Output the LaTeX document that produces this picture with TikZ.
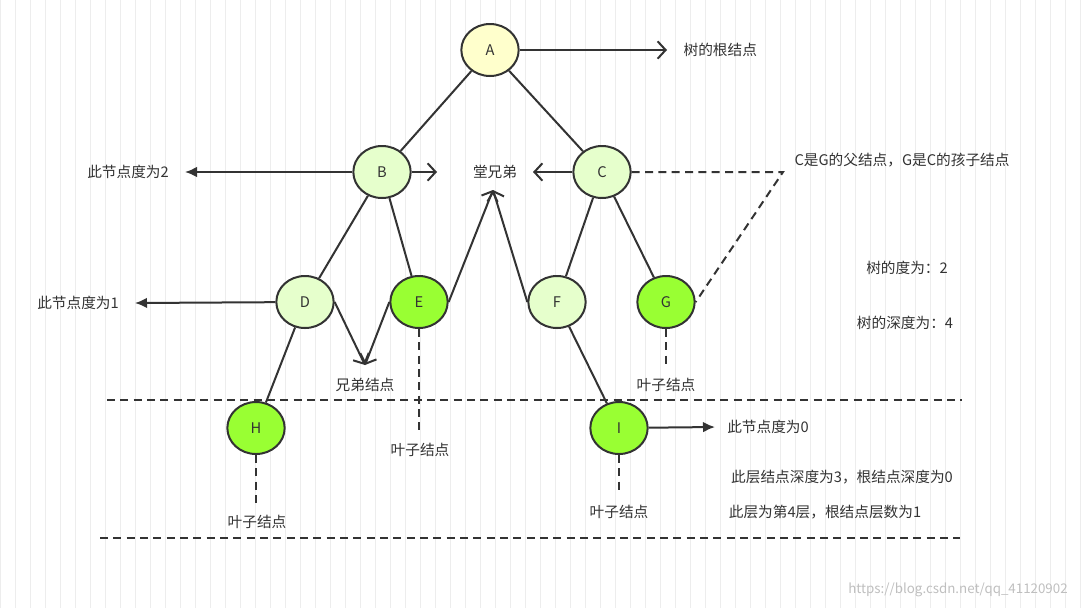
\documentclass[tikz,border=0pt]{standalone}
\usepackage{fontspec}
\setmainfont{Noto Sans CJK SC}
\usetikzlibrary{arrows.meta,shapes.geometric}
\definecolor{pale}{HTML}{E6FFCC}
\definecolor{lime}{HTML}{99FF33}
\definecolor{root}{HTML}{FFFFCC}
\definecolor{ink}{HTML}{333333}
\tikzset{
  vertex/.style={ellipse, draw=ink, line width=1.5pt, minimum width=43pt, minimum height=39pt, inner sep=0pt, font=\fontsize{11}{13}\selectfont, text=ink},
  note/.style={font=\fontsize{11}{13}\selectfont, text=ink, inner sep=1pt},
  edge/.style={draw=ink, line width=1.5pt},
  openarrow/.style={edge, -{Straight Barb[length=6pt,width=13pt]}},
  fullarrow/.style={edge, -{Latex[length=9pt,width=8pt]}},
  dashedge/.style={edge, dash pattern=on 6pt off 4pt}
}
\begin{document}
\begin{tikzpicture}[x=0.75pt, y=-0.75pt]
  \useasboundingbox (0,0) rectangle (1087,608);
  % grid
  \fill[white] (0,0) rectangle (1087,608);
  \draw[black!7, line width=0.6pt] (0,0) grid[step=15] (1087,608);
  % Place nodes
  \node [vertex, fill=root] (a) at (490,50) {A};
  \node [vertex, fill=pale] (b) at (382,172) {B};
  \node [vertex, fill=pale] (c) at (602,172) {C};
  \node [vertex, fill=pale] (d) at (305,302) {D};
  \node [vertex, fill=lime] (e) at (419,302) {E};
  \node [vertex, fill=pale] (f) at (557,302) {F};
  \node [vertex, fill=lime] (g) at (666,302) {G};
  \node [vertex, fill=lime] (h) at (256,428) {H};
  \node [vertex, fill=lime] (i) at (619,428) {I};
  % labels
  \node [note, anchor=west] (rootlbl) at (682,50) {树的根结点};
  \coordinate (rootend) at (667,50);
  \node [note] (deg2) at (128,172) {此节点度为2};
  \coordinate (deg2end) at (185,172);
  \node [note] (cousin) at (495,172) {堂兄弟};
  \coordinate (cousinl) at (437,172);
  \coordinate (cousinr) at (533,172);
  \coordinate (cousinb) at (493,190);
  \node [note, anchor=north west, text width=215pt, align=left] (parent) at (793,151) {C是G的父结点，G是C的孩子结点};
  \coordinate (bend) at (783,172);
  \node [note] (deg1) at (78,303) {此节点度为1};
  \coordinate (deg1end) at (135,303);
  \coordinate (sibtip) at (365,365);
  \node [note] (sib) at (365,385) {兄弟结点};
  \coordinate (eleafend) at (419,430);
  \node [note] (eleaf) at (420,450) {叶子结点};
  \coordinate (gleafend) at (666,365);
  \node [note] (gleaf) at (666,385) {叶子结点};
  \coordinate (hleafend) at (256,503);
  \node [note] (hleaf) at (257,522) {叶子结点};
  \coordinate (ileafend) at (619,490);
  \node [note] (ileaf) at (619,512) {叶子结点};
  \coordinate (deg0end) at (715,427);
  \node [note] (deg0) at (768,427) {此节点度为0};
  \node [note] (treedeg) at (907,268) {树的度为：2};
  \node [note] (treedep) at (905,323) {树的深度为：4};
  \node [note] (layerdep) at (842,477) {此层结点深度为3，根结点深度为0};
  \node [note] (layerno) at (825,512) {此层为第4层，根结点层数为1};
  \node [note, text=black!25, font=\fontsize{10}{12}\selectfont] (mark) at (958,590) {https://blog.csdn.net/qq\_41120902};
  % layer lines
  \coordinate (l1a) at (107,400); \coordinate (l1b) at (962,400);
  \coordinate (l2a) at (100,538); \coordinate (l2b) at (960,538);
  \path [dashedge] (l1a) -- (l1b);
  \path [dashedge] (l2a) -- (l2b);
  % Draw edges
  \path [edge] (a) -- (b);
  \path [edge] (a) -- (c);
  \path [edge] (b) -- (d);
  \path [edge] (b) -- (e);
  \path [edge] (c) -- (f);
  \path [edge] (c) -- (g);
  \path [edge] (d) -- (h);
  \path [edge] (f) -- (i);
  % Draw arrows
  \path [openarrow] (a) -- (rootend);
  \path [fullarrow] (b) -- (deg2end);
  \path [openarrow] (b) -- (cousinl);
  \path [openarrow] (c) -- (cousinr);
  \path [openarrow] (e.east) -- (cousinb);
  \path [openarrow] (f.west) -- (cousinb);
  \path [fullarrow] (d) -- (deg1end);
  \path [openarrow] (d.east) -- (sibtip);
  \path [openarrow] (e.west) -- (sibtip);
  \path [fullarrow] (i) -- (deg0end);
  % dashed leaders
  \path [dashedge] (c) -- (bend) -- (g.east);
  \path [dashedge] (e) -- (eleafend);
  \path [dashedge] (g) -- (gleafend);
  \path [dashedge] (h) -- (hleafend);
  \path [dashedge] (i) -- (ileafend);
\end{tikzpicture}
\end{document}
